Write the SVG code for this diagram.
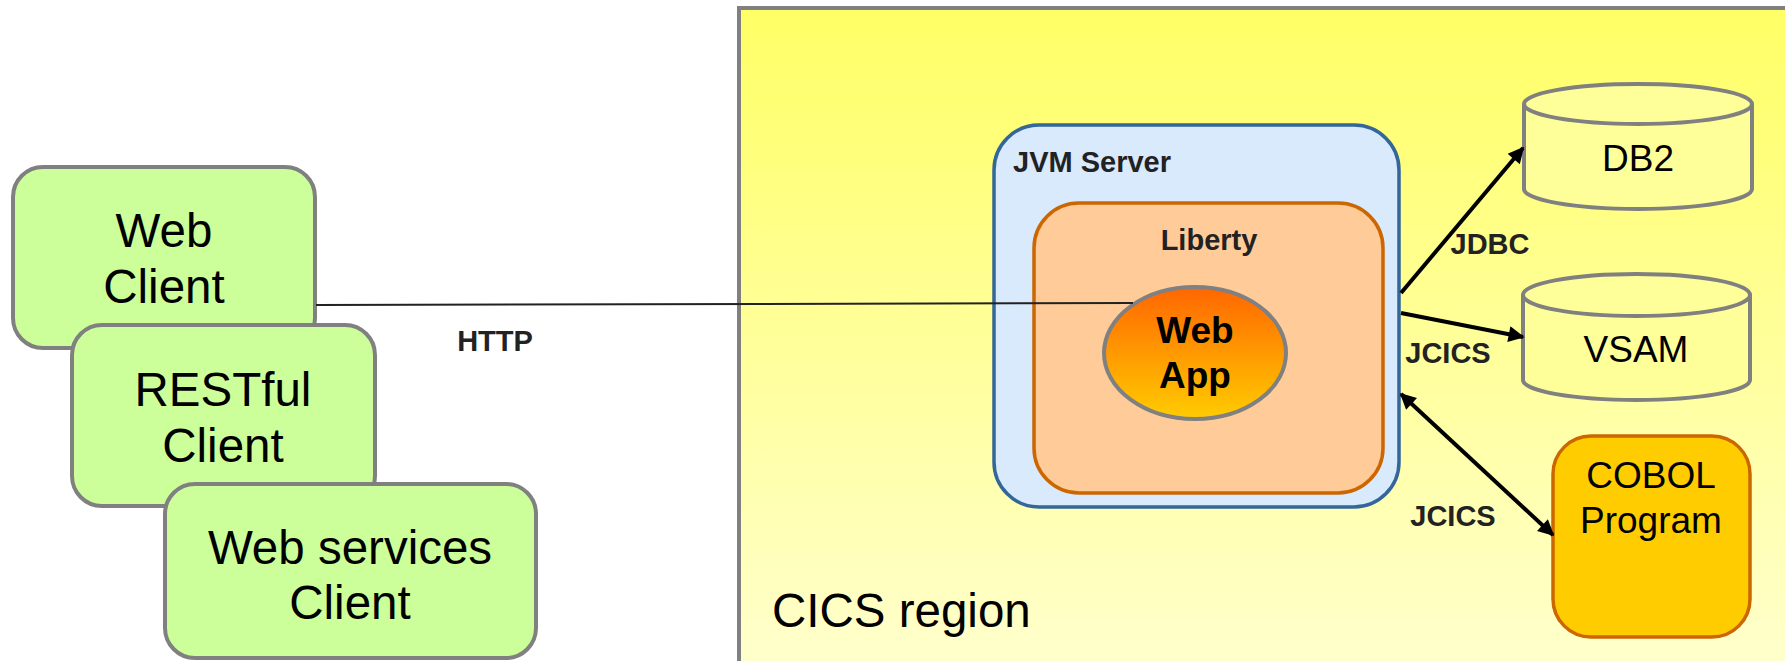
<svg xmlns="http://www.w3.org/2000/svg" width="1785" height="661" viewBox="0 0 1785 661">
  <defs>
    <linearGradient id="gCics" x1="0" y1="8" x2="0" y2="661" gradientUnits="userSpaceOnUse">
      <stop offset="0" stop-color="#FFFF66"/>
      <stop offset="1" stop-color="#FFFFCC"/>
    </linearGradient>
    <linearGradient id="gApp" x1="0" y1="0" x2="0" y2="1">
      <stop offset="0" stop-color="#FF6600"/>
      <stop offset="1" stop-color="#FFCC00"/>
    </linearGradient>
    <marker id="arr" viewBox="0 0 10 10" refX="9" refY="5" markerWidth="20" markerHeight="16" markerUnits="userSpaceOnUse" orient="auto-start-reverse">
      <path d="M0,0 L10,5 L0,10 z" fill="#000"/>
    </marker>
    <style>
      .client { fill: #CCFF99; stroke: #808080; stroke-width: 4; }
      .ctext { font-family: "Liberation Sans", Arial, sans-serif; font-size: 47.5px; fill: #000; text-anchor: middle; }
      .lbl { font-family: "Liberation Sans", Arial, sans-serif; font-size: 29px; font-weight: bold; fill: #222; }
      .db { fill: #FFFF99; stroke: #808080; stroke-width: 4; }
      .dtext { font-family: "Liberation Sans", Arial, sans-serif; font-size: 37px; fill: #000; text-anchor: middle; }
      .conn { stroke: #000; stroke-width: 4; fill: none; }
    </style>
  </defs>

  <g id="cics-region">
    <rect x="739" y="8" width="1060" height="670" fill="url(#gCics)" stroke="#808080" stroke-width="4"/>
    <text x="772" y="627" class="ctext" style="text-anchor:start">CICS region</text>
  </g>

  <g id="web-client">
    <rect class="client" x="13" y="167" width="302" height="181" rx="30"/>
    <text class="ctext" x="164" y="247">Web</text>
    <text class="ctext" x="164" y="303">Client</text>
  </g>
  <g id="restful-client">
    <rect class="client" x="72" y="325" width="303" height="181" rx="30"/>
    <text class="ctext" x="223" y="406">RESTful</text>
    <text class="ctext" x="223" y="462">Client</text>
  </g>
  <g id="ws-client">
    <rect class="client" x="165" y="484" width="371" height="174" rx="30"/>
    <text class="ctext" x="350" y="564">Web services</text>
    <text class="ctext" x="350" y="619">Client</text>
  </g>

  <g id="jvm-server">
    <rect x="994" y="125" width="405" height="382" rx="45" fill="#D9EAFD" stroke="#336699" stroke-width="3.5"/>
    <text class="lbl" x="1013" y="172">JVM Server</text>
  </g>
  <g id="liberty">
    <rect x="1034" y="203" width="349" height="290" rx="45" fill="#FFCC99" stroke="#CC6600" stroke-width="3.5"/>
    <text class="lbl" x="1209" y="250" text-anchor="middle">Liberty</text>
  </g>
  <g id="web-app">
    <ellipse cx="1195" cy="353" rx="91" ry="66" fill="url(#gApp)" stroke="#808080" stroke-width="4"/>
    <text x="1195" y="343" font-family="Liberation Sans, Arial, sans-serif" font-size="37" font-weight="bold" text-anchor="middle" fill="#000">Web</text>
    <text x="1195" y="388" font-family="Liberation Sans, Arial, sans-serif" font-size="37" font-weight="bold" text-anchor="middle" fill="#000">App</text>
  </g>

  <g id="db2">
    <path class="db" d="M1524,104 L1524,189 A114,20 0 0 0 1752,189 L1752,104"/>
    <ellipse class="db" cx="1638" cy="104" rx="114" ry="20"/>
    <text class="dtext" x="1638" y="171">DB2</text>
  </g>
  <g id="vsam">
    <path class="db" d="M1523,295 L1523,380 A113.5,20 0 0 0 1750,380 L1750,295"/>
    <ellipse class="db" cx="1636.5" cy="295" rx="113.5" ry="21"/>
    <text class="dtext" x="1636" y="362">VSAM</text>
  </g>
  <g id="cobol">
    <rect x="1553" y="436" width="197" height="201" rx="38" fill="#FFCC00" stroke="#CC6600" stroke-width="3.5"/>
    <text class="dtext" x="1651" y="488">COBOL</text>
    <text class="dtext" x="1651" y="533">Program</text>
  </g>

  <g id="connectors">
    <line x1="316" y1="305" x2="1133" y2="303" stroke="#222" stroke-width="2"/>
    <text class="lbl" x="495" y="351" text-anchor="middle">HTTP</text>
    <line class="conn" x1="1401" y1="293" x2="1523" y2="148" marker-end="url(#arr)"/>
    <text class="lbl" x="1490" y="254" text-anchor="middle">JDBC</text>
    <line class="conn" x1="1401" y1="313" x2="1523" y2="337" marker-end="url(#arr)"/>
    <text class="lbl" x="1448" y="363" text-anchor="middle">JCICS</text>
    <line class="conn" x1="1401" y1="394" x2="1553" y2="535" marker-start="url(#arr)" marker-end="url(#arr)"/>
    <text class="lbl" x="1453" y="526" text-anchor="middle">JCICS</text>
  </g>
</svg>
